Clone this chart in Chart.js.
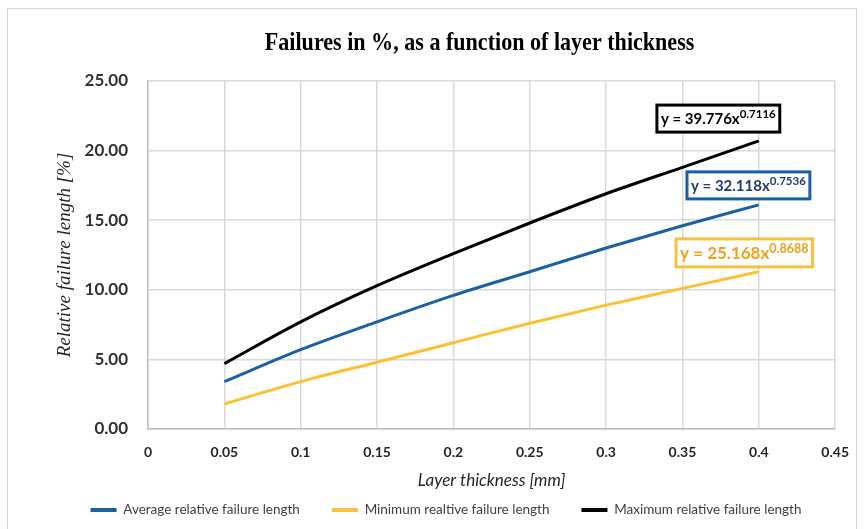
<!DOCTYPE html>
<html><head><meta charset="utf-8">
<script src="https://cdn.jsdelivr.net/npm/chart.js@4.4.1/dist/chart.umd.min.js"></script>
<style>html,body{margin:0;padding:0;background:#fff;} #wrap{width:864px;height:529px;position:relative;}</style>
</head><body><div id="wrap"><canvas id="c" width="864" height="529"></canvas></div>
<script>
const titleText = 'Failures in %, as a function of layer thickness';
const xTitle = 'Layer thickness [mm]';
const yTitle = 'Relative failure length [%]';
const seriesNames = ['Average relative failure length', 'Minimum realtive failure length', 'Maximum relative failure length'];
const thickness = [0.05, 0.1, 0.15, 0.2, 0.25, 0.3, 0.35, 0.4];
const avgValues = [3.4, 5.7, 7.7, 9.6, 11.3, 13.0, 14.6, 16.1];
const minValues = [1.8, 3.4, 4.8, 6.2, 7.6, 8.9, 10.1, 11.3];
const maxValues = [4.7, 7.7, 10.3, 12.6, 14.8, 16.9, 18.8, 20.7];
const xTickLabels = ['0', '0.05', '0.1', '0.15', '0.2', '0.25', '0.3', '0.35', '0.4', '0.45'];
const yTickLabels = ['0.00', '5.00', '10.00', '15.00', '20.00', '25.00'];
const eqBase = ['y = 32.118x', 'y = 25.168x', 'y = 39.776x'];
const eqExp = ['0.7536', '0.8688', '0.7116'];

const colors = ['#1c60a4', '#f9c133', '#000000'];
const toPts = vals => thickness.map((t, i) => ({x: t, y: vals[i]}));

const decor = {
  id: 'decor',
  beforeDraw(chart) {
    const ctx = chart.ctx;
    ctx.save();
    ctx.fillStyle = '#fff';
    ctx.fillRect(0, 0, chart.width, chart.height);
    ctx.strokeStyle = '#d9d9d9';
    ctx.lineWidth = 1;
    ctx.strokeRect(7.5, 8.5, 849, 540);
    ctx.restore();
  },
  afterDraw(chart, args, opts) {
    const ctx = chart.ctx;
    const {left, right} = chart.chartArea;
    ctx.save();
    ctx.font = 'bold 24px "Liberation Serif"';
    ctx.fillStyle = '#000';
    ctx.textAlign = 'center';
    ctx.textBaseline = 'alphabetic';
    ctx.translate((left + right) / 2 - 12, 50);
    ctx.scale(0.92, 1.03);
    ctx.fillText(titleText, 0, 0);
    ctx.restore();

    const xs = chart.scales.x, ys = chart.scales.y;
    opts.boxes.forEach((b, i) => {
      const cx = xs.getPixelForValue(b.x), cy = ys.getPixelForValue(b.y);
      ctx.save();
      ctx.font = `bold ${b.size}px Lato`;
      const w1 = ctx.measureText(eqBase[i]).width;
      ctx.font = `bold ${b.sup}px Lato`;
      const w2 = ctx.measureText(eqExp[i]).width;
      const w = w1 + w2 + 2 * b.padX, h = b.h;
      const x0 = cx - w / 2, y0 = cy - h / 2;
      ctx.fillStyle = '#fff';
      ctx.fillRect(x0, y0, w, h);
      ctx.lineWidth = 3;
      ctx.strokeStyle = b.border;
      ctx.strokeRect(x0, y0, w, h);
      ctx.fillStyle = b.color;
      ctx.textAlign = 'left';
      ctx.textBaseline = 'middle';
      ctx.font = `bold ${b.size}px Lato`;
      ctx.fillText(eqBase[i], x0 + b.padX, cy + 1);
      ctx.font = `bold ${b.sup}px Lato`;
      ctx.fillText(eqExp[i], x0 + b.padX + w1, cy - 4);
      ctx.restore();
    });
  }
};

new Chart(document.getElementById('c'), {
  type: 'line',
  data: {
    datasets: [
      {label: seriesNames[0], data: toPts(avgValues), borderColor: colors[0], backgroundColor: colors[0]},
      {label: seriesNames[1], data: toPts(minValues), borderColor: colors[1], backgroundColor: colors[1]},
      {label: seriesNames[2], data: toPts(maxValues), borderColor: colors[2], backgroundColor: colors[2]}
    ]
  },
  options: {
    responsive: false,
    animation: false,
    devicePixelRatio: 1,
    layout: {padding: {left: 50, right: 22, top: 81, bottom: 2.25}},
    elements: {
      line: {borderWidth: 3, cubicInterpolationMode: 'monotone', fill: false},
      point: {radius: 0, hoverRadius: 0}
    },
    scales: {
      x: {
        type: 'linear', min: 0, max: 0.45,
        afterFit: s => { s.height = 42.25; },
        ticks: {stepSize: 0.05, padding: 15, color: '#262626', font: {family: 'Lato', size: 14, weight: 'bold'},
          callback: (v, i) => xTickLabels[i]},
        grid: {color: '#d9d9d9', lineWidth: 1.5, drawTicks: false},
        border: {color: '#bfbfbf', width: 1.5},
        title: {display: true, text: xTitle, color: '#262626', font: {family: 'Lato', size: 17, style: 'italic'},
          padding: {top: 0, bottom: -19}}
      },
      y: {
        min: 0, max: 25,
        afterFit: s => { s.width = 98; },
        ticks: {stepSize: 5, padding: 20, color: '#333', font: {family: 'Lato', size: 17, weight: 'bold'},
          callback: (v, i) => yTickLabels[i]},
        grid: {color: '#d9d9d9', lineWidth: 1.5, drawTicks: false},
        border: {color: '#bfbfbf', width: 1.5},
        title: {display: true, text: yTitle, color: '#262626', font: {family: 'Liberation Serif', size: 19, style: 'italic'},
          padding: {top: 4, bottom: 0}}
      }
    },
    plugins: {
      tooltip: {enabled: false},
      legend: {
        position: 'bottom',
        labels: {
          usePointStyle: true, pointStyle: 'line', pointStyleWidth: 26, padding: 32,
          color: '#404040', font: {family: 'Lato', size: 13.5},
          generateLabels: chart => Chart.defaults.plugins.legend.labels.generateLabels(chart)
            .map(l => Object.assign(l, {lineWidth: 4, pointStyle: 'line'}))
        }
      },
      decor: {
        boxes: [
          {x: 0.3932, y: 17.5, size: 15, sup: 11.5, padX: 4, h: 27, border: '#1a5ea8', color: '#1f3b6e'},
          {x: 0.3905, y: 12.65, size: 17, sup: 12.5, padX: 4, h: 28, border: '#f9c040', color: '#eea21b'},
          {x: 0.3735, y: 22.3, size: 15, sup: 11.5, padX: 4, h: 27, border: '#000000', color: '#000000'}
        ]
      }
    }
  },
  plugins: [decor]
});
</script>
</body></html>
